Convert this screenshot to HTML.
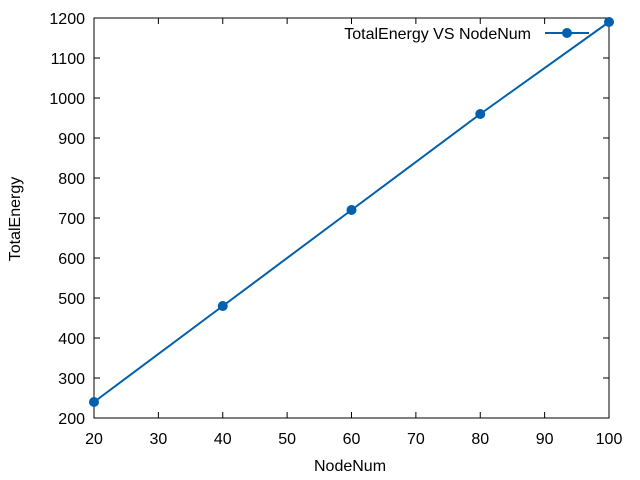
<!DOCTYPE html>
<html><head><meta charset="utf-8"><style>body{margin:0;background:#fff}svg{display:block;font-family:"Liberation Sans",sans-serif;font-size:16px}</style></head>
<body>
<svg id="chart" width="640" height="480">
<rect x="94" y="18" width="515" height="400" fill="none" stroke="#000" stroke-width="1"/>
<g id="axes"></g>
<text x="350" y="471" text-anchor="middle">NodeNum</text>
<text transform="translate(20,219) rotate(-90)" text-anchor="middle">TotalEnergy</text>
<g>
<text x="531" y="39" text-anchor="end">TotalEnergy VS NodeNum</text>
<line x1="545" y1="33" x2="589" y2="33" stroke="#0060ad" stroke-width="2"/>
<circle cx="567" cy="33" r="5" fill="#0060ad"/>
</g>
<g id="series"></g>
</svg>
<script>
const xValues=[20,40,60,80,100];
const yValues=[240,480,720,960,1190];
const xTicks=[20,30,40,50,60,70,80,90,100];
const yTicks=[200,300,400,500,600,700,800,900,1000,1100,1200];
const ns="http://www.w3.org/2000/svg";
const X=v=>94+(v-20)/80*515;
const Y=v=>418-(v-200)/1000*400;
const axes=document.getElementById('axes'),series=document.getElementById('series');
function mk(t,a,p){const e=document.createElementNS(ns,t);for(const k in a)e.setAttribute(k,a[k]);p.appendChild(e);return e;}
xTicks.forEach(v=>{const x=X(v);
const t1=mk('line',{x1:x,y1:418,x2:x,y2:412,stroke:'#000'},axes);


const t2=mk('line',{x1:x,y1:18,x2:x,y2:24,stroke:'#000'},axes);


const l=mk('text',{x:x,y:444,'text-anchor':'middle'},axes);l.textContent=v;

});
yTicks.forEach(v=>{const y=Y(v);
const t1=mk('line',{x1:94,y1:y,x2:100,y2:y,stroke:'#000'},axes);


const t2=mk('line',{x1:609,y1:y,x2:603,y2:y,stroke:'#000'},axes);


const l=mk('text',{x:85,y:y+6,'text-anchor':'end'},axes);l.textContent=v;

});
const pl=mk('polyline',{points:xValues.map((v,i)=>X(v)+','+Y(yValues[i])).join(' '),fill:'none',stroke:'#0060ad','stroke-width':2},series);


xValues.forEach((v,i)=>{const c=mk('circle',{cx:X(v),cy:Y(yValues[i]),r:5,fill:'#0060ad'},series);

});
</script>
</body></html>
